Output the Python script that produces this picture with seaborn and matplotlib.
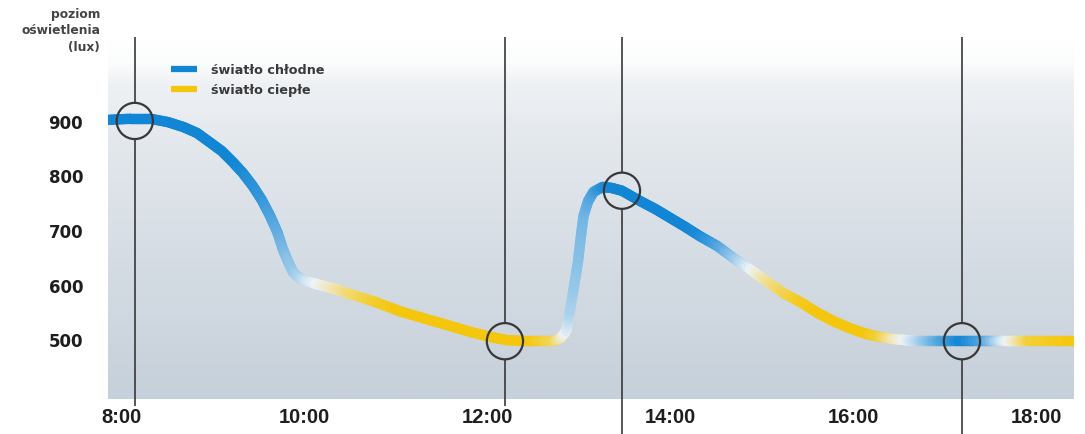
import numpy as np
import matplotlib.pyplot as plt
import seaborn as sns
from matplotlib.collections import LineCollection
from matplotlib.colors import LinearSegmentedColormap, Normalize
from matplotlib.lines import Line2D

# curve: time (h), light level (lux), tone (1 = cool, 0 = neutral, -1 = warm)
hours = [7.85, 8.09, 8.31, 8.50, 8.67, 8.82, 8.96, 9.09, 9.21, 9.32, 9.43, 9.53, 9.62,
         9.70, 9.76, 9.82, 9.87, 9.94, 10.02, 10.17, 10.33, 10.49, 10.77, 11.04, 11.32,
         11.59, 11.81, 12.03, 12.21, 12.46, 12.72, 12.80, 12.86, 12.90, 12.95, 12.99,
         13.02, 13.05, 13.10, 13.16, 13.26, 13.36, 13.47, 13.67, 13.83, 13.96, 14.15,
         14.32, 14.51, 14.68, 14.87, 15.06, 15.24, 15.42, 15.60, 15.78, 15.96, 16.15,
         16.29, 16.44, 16.57, 16.73, 16.95, 17.19, 17.44, 17.61, 17.74, 17.93, 18.42]
lux = [902, 904, 904, 898, 889, 878, 861, 845, 825, 805, 781, 755, 726,
       696, 665, 641, 623, 612, 606, 599, 592, 583, 568, 551, 537,
       524, 513, 504, 498, 496, 496, 502, 515, 551, 601, 643,
       687, 726, 753, 770, 779, 777, 772, 753, 739, 726, 707,
       689, 671, 650, 628, 605, 584, 568, 549, 533, 520, 509,
       504, 500, 498, 496, 496, 496, 496, 496, 496, 496, 496]
tone = [1, 1, 1, 1, 1, 1, 1, 1, 1, 0.95, 0.9, 0.85, 0.75,
        0.65, 0.55, 0.45, 0.4, 0.3, 0.15, -0.05, -0.3, -0.55, -0.85, -1, -1,
        -1, -1, -1, -1, -1, -0.7, -0.3, 0.05, 0.3, 0.4, 0.45,
        0.5, 0.55, 0.65, 0.75, 0.9, 1, 1, 1, 1, 1, 1,
        0.95, 0.75, 0.45, 0.05, -0.4, -0.7, -0.9, -1, -1, -1, -1,
        -0.8, -0.3, 0.0, 0.3, 0.7, 1, 0.7, 0.2, -0.1, -0.8, -1]

mark_hours = [8.14, 12.19, 13.47, 17.19]
mark_lux = [900, 496, 772, 496]
line_end = [377, 377, 326, 326]

x_ticks = [8, 10, 12, 14, 16, 18]
x_labels = ['8:00', '10:00', '12:00', '14:00', '16:00', '18:00']
y_ticks = [500, 600, 700, 800, 900]

blue = '#1186d5'
yellow = '#f4c70c'

sns.set_style('white')
plt.rcParams['font.family'] = ['DejaVu Sans']

fig = plt.figure(figsize=(10.85, 4.35), dpi=100)
ax = fig.add_axes([108 / 1085, 35 / 435, 966 / 1085, 362 / 435])
xlim = (7.847, 18.416)
ylim = (390, 1054)

# background gradient of the panel
bg = LinearSegmentedColormap.from_list('bg', [
    (0.0, '#ffffff'), (0.07, '#fbfcfd'), (0.13, '#eef1f4'), (0.31, '#e2e7ec'),
    (0.59, '#d6dde4'), (1.0, '#c6d0da')])
ax.imshow(np.linspace(0, 1, 256).reshape(-1, 1), cmap=bg, aspect='auto',
          extent=[xlim[0], xlim[1], ylim[0], ylim[1]], origin='upper', zorder=0)

# curve with colour gradient along its length
tone_cmap = LinearSegmentedColormap.from_list('tone', [yellow, '#eef3f7', blue])
pts = np.column_stack([hours, lux]).astype(float)
tn = np.array(tone, dtype=float)
segs, cols = [], []
n_sub = 6
for i in range(len(pts) - 1):
    for k in range(n_sub):
        a, b = k / n_sub, (k + 1) / n_sub
        segs.append([pts[i] + (pts[i + 1] - pts[i]) * a, pts[i] + (pts[i + 1] - pts[i]) * b])
        cols.append(tn[i] + (tn[i + 1] - tn[i]) * (a + b) / 2)
lc = LineCollection(segs, cmap=tone_cmap, norm=Normalize(-1, 1), linewidths=7.5,
                    capstyle='round', zorder=3)
lc.set_array(np.array(cols))
ax.add_collection(lc)

# vertical markers with circles
r = 33
ax.vlines(mark_hours, [v + r for v in mark_lux], ylim[1], color='#383838', lw=1.2,
          zorder=4, clip_on=False)
ax.vlines(mark_hours, line_end, [v - r for v in mark_lux], color='#383838', lw=1.2,
          zorder=4, clip_on=False)
sns.scatterplot(x=mark_hours, y=mark_lux, s=680, marker='o', facecolor='none',
                edgecolor='#383838', linewidth=1.6, zorder=5, ax=ax)

ax.set_xlim(*xlim)
ax.set_ylim(*ylim)
ax.set_xticks(x_ticks, x_labels)
ax.set_yticks(y_ticks)
ax.tick_params(axis='both', length=0)
ax.tick_params(axis='y', pad=18)
ax.tick_params(axis='x', pad=6)
for lab in ax.get_yticklabels():
    lab.set_fontsize(12)
    lab.set_fontweight('bold')
    lab.set_color('#1e1e1e')
for lab in ax.get_xticklabels():
    lab.set_fontsize(14.5)
    lab.set_fontweight('bold')
    lab.set_family(['Liberation Sans', 'DejaVu Sans'])
    lab.set_color('#1e1e1e')
for s in ax.spines.values():
    s.set_visible(False)

fig.text(100 / 1085, 1 - 8 / 435, 'poziom\noświetlenia\n(lux)', ha='right', va='top',
         fontsize=8.8, fontweight='bold', color='#444444', linespacing=1.35,
         multialignment='right')

handles = [Line2D([0], [0], color=blue, lw=4.5, solid_capstyle='butt'),
           Line2D([0], [0], color=yellow, lw=4.5, solid_capstyle='butt')]
fig.legend(handles, ['światło chłodne', 'światło ciepłe'], loc='upper left',
           bbox_to_anchor=(165 / 1085, 1 - 58 / 435), frameon=False, borderpad=0,
           handlelength=2.0, handletextpad=1.1, labelspacing=0.55,
           prop={'size': 9.2, 'weight': 'bold'}, labelcolor='#3a3a3a')

fig.savefig('out.png', dpi=100)
